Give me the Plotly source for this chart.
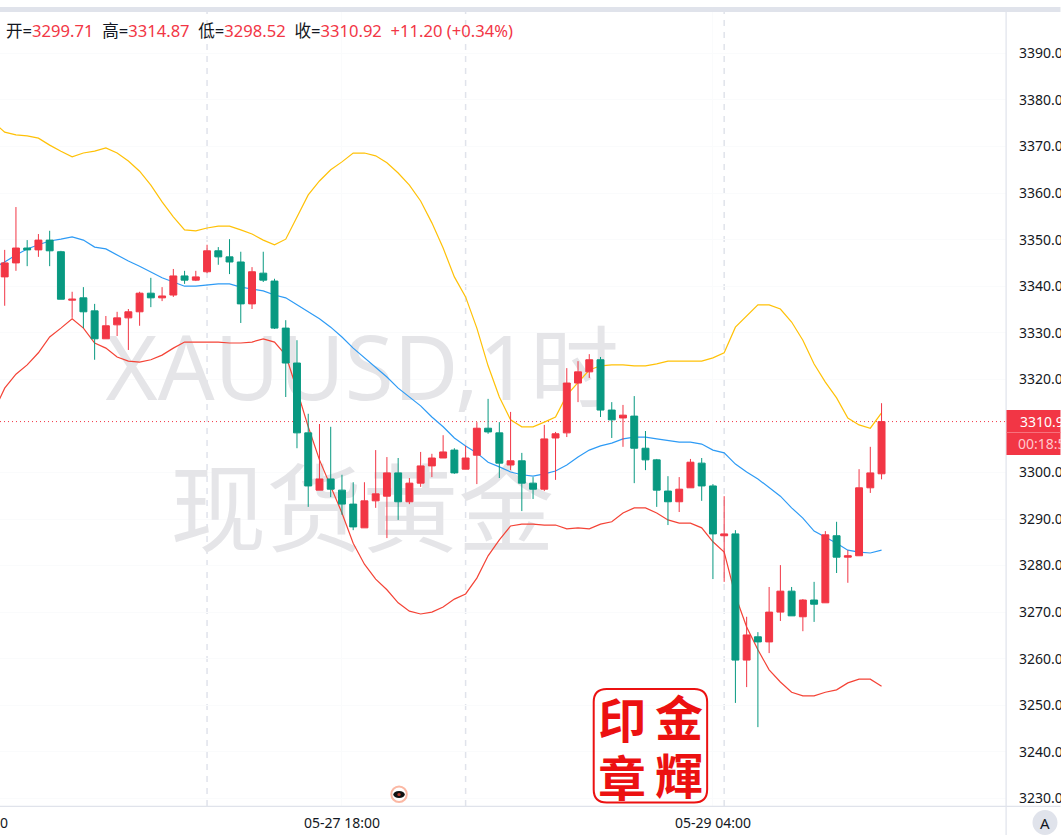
import plotly.graph_objects as go

W, H = 1061, 835
L_PX, R_PX, T_PX, B_PX = 0, 1006.5, 12, 806

INDEX = list(range(79))
OPEN = [3342.0,3345.0,3348.2,3347.8,3349.9,3347.4,3337.0,3337.5,3334.7,3328.7,3331.7,3333.2,3334.5,3338.5,3337.5,3338.1,3342.2,3341.3,3343.1,3347.6,
        3346.3,3345.2,3336.2,3342.8,3341.1,3331.0,3323.5,3308.5,3296.2,3298.6,3296.2,3293.2,3288.1,3293.9,3294.9,3299.9,3293.7,3297.7,3301.4,3303.1,
        3304.8,3300.7,3303.7,3309.5,3308.5,3301.6,3302.5,3297.7,3296.4,3307.4,3308.5,3319.2,3321.6,3324.2,3313.4,3311.7,3312.1,3305.2,3302.7,3296.0,
        3293.7,3296.7,3302.0,3297.1,3286.4,3286.8,3259.7,3264.7,3263.6,3270.0,3274.5,3269.0,3272.6,3272.0,3286.4,3281.8,3282.1,3296.7,3299.71]
HIGH = [3347.8,3357.0,3349.9,3351.2,3351.9,3347.6,3338.8,3339.8,3336.2,3333.6,3334.5,3335.1,3338.8,3341.8,3339.8,3343.7,3343.3,3343.3,3348.9,3348.4,
        3350.1,3347.4,3344.1,3347.4,3341.6,3332.7,3328.4,3312.6,3310.4,3309.8,3299.5,3297.9,3297.9,3304.8,3303.3,3303.1,3298.8,3304.4,3304.0,3308.0,
        3305.2,3305.7,3310.8,3315.8,3310.8,3313.0,3304.2,3299.0,3310.2,3308.7,3322.4,3323.9,3325.4,3324.8,3315.1,3314.5,3316.4,3308.9,3302.9,3299.2,
        3299.0,3302.9,3303.1,3297.5,3294.9,3287.6,3269.0,3265.7,3275.4,3280.1,3275.4,3272.8,3276.5,3287.4,3289.4,3283.3,3300.7,3305.5,3314.87]
LOW = [3335.8,3343.3,3344.3,3346.3,3344.3,3337.2,3333.2,3331.0,3324.2,3328.7,3329.3,3326.3,3331.5,3335.5,3336.8,3337.7,3340.5,3341.1,3342.8,3344.6,
       3342.6,3332.1,3335.1,3340.9,3330.8,3316.2,3305.2,3292.6,3296.2,3294.7,3290.9,3287.6,3288.1,3292.4,3285.9,3289.8,3293.2,3296.9,3299.0,3303.1,
       3299.7,3300.7,3297.5,3308.3,3298.8,3300.5,3291.7,3294.3,3296.0,3298.4,3307.6,3315.1,3320.3,3311.9,3307.4,3305.5,3297.7,3300.5,3292.6,3288.7,
       3291.5,3296.7,3293.9,3277.1,3276.5,3250.5,3253.9,3245.3,3261.2,3268.1,3269.2,3265.9,3267.9,3272.0,3278.4,3276.3,3282.1,3295.6,3298.52]
CLOSE = [3345.0,3348.2,3347.8,3349.9,3347.6,3337.2,3337.2,3334.5,3328.7,3331.5,3333.2,3334.5,3338.5,3337.5,3337.9,3342.2,3341.3,3342.0,3347.6,3346.3,
         3345.2,3336.2,3343.1,3341.3,3331.0,3323.5,3308.5,3297.1,3298.6,3296.4,3293.2,3288.3,3293.9,3295.4,3299.9,3293.7,3297.7,3301.4,3303.1,3304.4,
         3299.9,3303.1,3309.5,3308.7,3302.0,3302.5,3297.7,3296.4,3307.2,3308.3,3319.2,3321.6,3324.2,3313.4,3311.3,3312.3,3305.2,3302.7,3296.2,3293.7,
         3296.4,3302.2,3297.1,3286.8,3286.8,3259.7,3265.1,3263.6,3270.0,3274.5,3269.2,3272.6,3271.7,3286.6,3281.8,3282.1,3296.7,3299.9,3310.92]

BAND_X = list(range(-1, 79))
UPPER = [3375.2,3373.1,3372.5,3372.3,3371.8,3370.3,3369.0,3367.8,3368.6,3369.0,3369.7,3368.6,3366.9,3364.7,3361.7,3358.1,3354.9,3352.1,3351.9,3352.5,3352.9,
         3352.9,3352.1,3351.2,3349.9,3348.9,3350.1,3354.7,3359.6,3362.6,3365.0,3366.7,3368.6,3368.6,3368.0,3366.5,3364.3,3361.7,3358.3,3353.6,3348.2,
         3342.0,3337.7,3331.0,3322.9,3316.2,3311.3,3309.8,3309.8,3310.8,3311.9,3316.6,3319.4,3322.0,3322.9,3323.1,3323.1,3322.9,3322.9,3323.3,3323.9,
         3323.9,3323.9,3323.9,3324.6,3325.7,3331.2,3333.6,3336.0,3336.0,3335.1,3332.3,3328.4,3323.3,3319.4,3316.0,3311.7,3310.2,3309.5,3312.8]
MIDDLE = [3343.9,3345.2,3346.7,3348.0,3348.9,3349.7,3350.1,3350.6,3349.9,3348.4,3348.0,3346.7,3345.4,3344.3,3343.1,3341.8,3340.9,3340.0,3340.0,3340.3,3340.5,
          3340.5,3339.8,3339.4,3339.0,3338.1,3337.5,3336.0,3334.5,3333.0,3331.2,3329.1,3326.7,3324.6,3322.4,3320.5,3318.1,3316.2,3314.3,3311.9,3309.8,
          3307.4,3305.7,3304.2,3302.2,3301.2,3300.1,3299.5,3299.2,3299.7,3300.3,3301.6,3303.3,3304.8,3305.7,3306.3,3307.2,3307.6,3307.6,3307.2,3306.8,
          3306.5,3306.5,3306.1,3304.8,3304.2,3301.8,3300.1,3298.6,3296.7,3294.9,3292.4,3290.2,3287.4,3286.1,3284.8,3283.3,3282.9,3282.7,3283.3]
LOWER = [3313.0,3318.1,3321.1,3323.1,3325.7,3329.1,3331.0,3333.0,3331.0,3327.8,3326.7,3324.8,3323.9,3323.7,3324.2,3325.2,3326.7,3328.0,3328.0,3328.0,3328.0,
         3327.8,3327.8,3328.0,3328.7,3328.0,3325.2,3317.7,3309.8,3302.7,3296.9,3291.3,3284.8,3280.3,3277.1,3274.8,3272.0,3270.2,3269.6,3270.0,3271.1,
         3272.8,3273.9,3277.3,3282.1,3285.5,3288.5,3288.9,3288.9,3288.7,3288.7,3287.9,3288.1,3287.9,3288.9,3289.4,3291.3,3292.4,3292.4,3291.3,3289.8,
         3289.1,3289.1,3288.1,3285.1,3282.9,3273.5,3266.8,3261.9,3257.6,3255.0,3252.8,3252.0,3252.0,3252.8,3253.3,3254.8,3255.6,3255.6,3254.1]

Y_TICKS = [3230, 3240, 3250, 3260, 3270, 3280, 3290, 3300, 3320, 3330, 3340, 3350, 3360, 3370, 3380, 3390]
X_TICK_POS = [30, 63]
X_TICK_TEXT = ["05-27 18:00", "05-29 04:00"]
X_GRID_DASHED = [18, 41, 64]
LAST_PRICE = 3310.92
X_RANGE = [-0.418, 89.07]
Y_RANGE = [3228.36, 3398.89]

UP, DOWN = "#F23645", "#089981"
AXIS = "#E0E3EB"
TXT = "#131722"
FONT = "Noto Sans, Noto Sans CJK SC, sans-serif"


def px(x):
    return (x - L_PX) / (R_PX - L_PX)


def py(y):
    return (B_PX - y) / (B_PX - T_PX)


fig = go.Figure()

# watermark, lowest layer
fig.add_trace(go.Scatter(x=[31.8], y=[3320.3], mode="text", text=["XAUUSD,1时"],
                         textfont=dict(size=89, color="#E5E5E8", family=FONT),
                         textposition="middle center", hoverinfo="skip", showlegend=False))
fig.add_trace(go.Scatter(x=[31.8], y=[3289.7], mode="text", text=["现货黄金"],
                         textfont=dict(size=96, color="#E5E5E8", family=FONT),
                         textposition="middle center", hoverinfo="skip", showlegend=False))

for vals, col in ((UPPER, "#FFC107"), (MIDDLE, "#2E9BF5"), (LOWER, "#F44336")):
    fig.add_trace(go.Scatter(x=BAND_X, y=vals, mode="lines", line=dict(color=col, width=1.2),
                             hoverinfo="skip", showlegend=False))

fig.add_trace(go.Candlestick(x=INDEX, open=OPEN, high=HIGH, low=LOW, close=CLOSE,
                             xaxis="x2", yaxis="y2", whiskerwidth=0,
                             increasing=dict(line=dict(color=UP, width=1), fillcolor=UP),
                             decreasing=dict(line=dict(color=DOWN, width=1), fillcolor=DOWN),
                             showlegend=False, hoverinfo="skip"))

shapes = []
for g in X_GRID_DASHED:
    shapes.append(dict(type="line", xref="x", yref="paper", x0=g, x1=g, y0=0, y1=1, layer="below",
                       line=dict(color=AXIS, width=1.5, dash="6px,6px")))
shapes.append(dict(type="line", xref="paper", yref="y", x0=0, x1=1, y0=LAST_PRICE, y1=LAST_PRICE, layer="below",
                   line=dict(color=UP, width=1, dash="1px,3px")))


def rect(x0, y0, x1, y1, fill, line=None, kind="rect"):
    return dict(type=kind, xref="paper", yref="paper", x0=px(x0), x1=px(x1), y0=py(y1), y1=py(y0),
                fillcolor=fill, line=line or dict(width=0), layer="above")


shapes.append(rect(0, 7, W, 12, AXIS))
shapes.append(rect(1006, 12, 1007.2, H, AXIS))
shapes.append(rect(0, 805.8, W, 807, AXIS))
# last price tag
shapes.append(rect(1007, 410, W, 455, UP))
shapes.append(rect(1007, 432, W, 433, "#F7727D"))
# auto badge
shapes.append(rect(1033, 810, 1058, 835, AXIS, kind="circle"))
# event marker
shapes.append(rect(391.5, 786.5, 407, 802, "#FFFFFF", dict(color="#FBB8A4", width=2), kind="circle"))
shapes.append(rect(393.5, 791, 405, 798, "#111111", kind="circle"))
shapes.append(rect(397.5, 793, 401, 796, "#B33A2E", kind="circle"))
# stamp frame
x0, x1, y0, y1 = px(594), px(707.5), py(802.5), py(689)
rx, ry = 13 / (R_PX - L_PX), 13 / (B_PX - T_PX)
shapes.append(dict(type="path", xref="paper", yref="paper", layer="above",
                   path=f"M {x0+rx} {y0} L {x1-rx} {y0} Q {x1} {y0} {x1} {y0+ry} L {x1} {y1-ry} Q {x1} {y1} {x1-rx} {y1} "
                        f"L {x0+rx} {y1} Q {x0} {y1} {x0} {y1-ry} L {x0} {y0+ry} Q {x0} {y0} {x0+rx} {y0} Z",
                   line=dict(color="#EC1111", width=2), fillcolor="rgba(255,255,255,0)"))


def note(x, y, text, size=14, color=TXT, anchor="left", family=FONT):
    return dict(xref="paper", yref="paper", x=px(x), y=py(y), text=text, showarrow=False,
                xanchor=anchor, yanchor="middle", font=dict(size=size, color=color, family=family), align=anchor)


def v(s):
    return f'<span style="color:{UP}">{s}</span>'


header = (f'开={v("3299.71")}  高={v("3314.87")}  低={v("3298.52")}  收={v("3310.92")}  '
          f'{v("+11.20 (+0.34%)")}')
STAMP = "Noto Sans CJK TC"
annotations = [
    note(4, 30, header, size=16.6),
    note(1019, 421, "3310.92", size=14, color="#FFFFFF"),
    note(1017, 444, "00:18:56", size=14, color="#FFC9CE"),
    note(10, 822, "00", anchor="right"),
    note(1045.5, 823, "A", size=15, anchor="center"),
    note(679, 715, "<b>金</b>", size=48, color="#EC1111", anchor="center", family=STAMP),
    note(622, 717, "<b>印</b>", size=48, color="#EC1111", anchor="center", family=STAMP),
    note(679, 773, "<b>輝</b>", size=48, color="#EC1111", anchor="center", family=STAMP),
    note(622, 775, "<b>章</b>", size=48, color="#EC1111", anchor="center", family=STAMP),
]

fig.update_layout(
    width=W, height=H, margin=dict(l=L_PX, r=W - R_PX, t=T_PX, b=H - B_PX, autoexpand=False),
    paper_bgcolor="#FFFFFF", plot_bgcolor="#FFFFFF", showlegend=False, dragmode=False,
    font=dict(family=FONT, color=TXT, size=14), boxgap=0.12,
    xaxis=dict(range=X_RANGE, tickmode="array", tickvals=X_TICK_POS, ticktext=X_TICK_TEXT,
               showgrid=True, gridcolor="#FAFBFC", gridwidth=1, zeroline=False, showline=False, ticks="",
               tickfont=dict(size=14, color=TXT), ticklabelstandoff=7, fixedrange=True),
    yaxis=dict(range=Y_RANGE, side="right", tickmode="array", tickvals=Y_TICKS,
               ticktext=[f"{t:.2f}" for t in Y_TICKS], showgrid=True, gridcolor="#FAFBFC", gridwidth=1,
               zeroline=False, showline=False, ticks="", tickfont=dict(size=14, color=TXT),
               ticklabelstandoff=12, fixedrange=True),
    xaxis2=dict(range=X_RANGE, overlaying="x", visible=False, rangeslider=dict(visible=False), fixedrange=True),
    yaxis2=dict(range=Y_RANGE, overlaying="y", visible=False, fixedrange=True),
    shapes=shapes, annotations=annotations,
)

fig.write_html("out.html", config=dict(displayModeBar=False),
               post_script="document.body.style.margin='0';document.body.style.overflow='hidden';")
